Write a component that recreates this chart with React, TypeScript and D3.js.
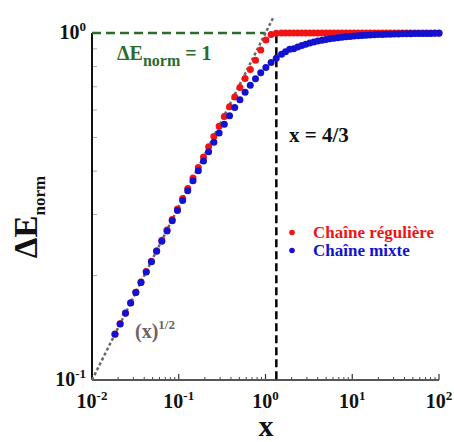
import React from "react";
import * as d3 from "d3";

const xValues = [
  0.0184, 0.0211, 0.0243, 0.0279, 0.032, 0.0367, 0.0422, 0.0484, 0.0556, 0.0638,
  0.0733, 0.0841, 0.0966, 0.111, 0.127, 0.146, 0.168, 0.193, 0.221, 0.254,
  0.292, 0.335, 0.385, 0.442, 0.507, 0.582, 0.668, 0.767, 0.881, 1.01,
  1.16, 1.33, 1.53, 1.7, 1.9, 2.11, 2.35, 2.62, 2.91, 3.24,
  3.61, 4.01, 4.47, 4.97, 5.53, 6.16, 6.85, 7.63, 8.49, 9.45,
  10.5, 11.7, 13.0, 14.5, 16.1, 18.0, 20.0, 22.3, 24.8, 27.6,
  30.7, 34.2, 38.0, 42.3, 47.1, 52.4, 58.3, 64.9, 72.3, 80.4,
  89.5, 100,
];

const regularValues = [
  0.1356, 0.1453, 0.1559, 0.167, 0.1789, 0.1916, 0.2054, 0.22, 0.2358, 0.2526,
  0.2707, 0.29, 0.3108, 0.3332, 0.3564, 0.3821, 0.4099, 0.4393, 0.4701, 0.503,
  0.539, 0.575, 0.613, 0.654, 0.696, 0.739, 0.785, 0.835, 0.893, 0.955,
  0.99, 0.999, 1, 1, 1, 1, 1, 1, 1, 1,
  1, 1, 1, 1, 1, 1, 1, 1, 1, 1,
  1, 1, 1, 1, 1, 1, 1, 1, 1, 1,
  1, 1, 1, 1, 1, 1, 1, 1, 1, 1,
  1, 1,
];

const mixedValues = [
  0.1355, 0.1451, 0.1557, 0.1668, 0.1786, 0.1911, 0.2048, 0.2192, 0.2348, 0.2513,
  0.269, 0.2877, 0.3078, 0.3292, 0.3512, 0.3753, 0.4009, 0.4275, 0.4549, 0.4842,
  0.5146, 0.5456, 0.5777, 0.6101, 0.6425, 0.6749, 0.7068, 0.738, 0.7678, 0.7958,
  0.822, 0.8459, 0.8681, 0.8833, 0.8978, 0.9005, 0.9106, 0.9198, 0.9278, 0.9352,
  0.9418, 0.9476, 0.953, 0.9577, 0.962, 0.9659, 0.9693, 0.9725, 0.9753, 0.9778,
  0.98, 0.9821, 0.9838, 0.9855, 0.987, 0.9883, 0.9895, 0.9906, 0.9915, 0.9924,
  0.9932, 0.9939, 0.9945, 0.995, 0.9955, 0.996, 0.9964, 0.9968, 0.9971, 0.9974,
  0.9977, 0.9979,
];

const xTicks = [0.01, 0.1, 1, 10, 100];
const xTickExponents = ["-2", "-1", "0", "1", "2"];
const yTicks = [0.1, 1];
const yTickExponents = ["-1", "0"];
const seriesNames = ["Chaîne régulière", "Chaîne mixte"];
const criticalX = 4 / 3;
const sqrtLineRange = [0.01, 1.25];
const plateauRange = [0.01, 1.0];

const W = 454;
const H = 442;
const FONT = "'Liberation Serif', 'Times New Roman', serif";
const RED = "#f01414";
const BLUE = "#1212d0";
const GREEN = "#2e6b2e";
const GRAY = "#6e6262";

export default function App() {
  const x = d3.scaleLog().domain([0.01, 100]).range([92, 439]);
  const y = d3.scaleLog().domain([0.1, 1]).range([380, 33]);

  const minorX: number[] = [];
  for (let e = -2; e < 2; e++) {
    for (let m = 2; m <= 9; m++) minorX.push(m * Math.pow(10, e));
  }
  const minorY: number[] = [];
  for (let m = 2; m <= 9; m++) minorY.push(m / 10);

  const sqrtLine = d3
    .line<number>()
    .x((d) => x(d))
    .y((d) => y(Math.sqrt(d)));

  return (
    <svg
      width={W}
      height={H}
      style={{ position: "absolute", left: 0, top: 0, background: "#fff" }}
      fontFamily={FONT}
      fontWeight="bold"
    >
      {minorY.map((v) => (
        <line key={"my" + v} x1={x(0.01)} x2={x(0.01) + 5} y1={y(v)} y2={y(v)} stroke="#aaa" strokeWidth={1} />
      ))}
      {minorX.map((v, i) => (
        <line key={"mx" + i} x1={x(v)} x2={x(v)} y1={y(0.1)} y2={y(0.1) - 3} stroke="#444" strokeWidth={1} />
      ))}
      {xTicks.map((v) => (
        <line key={"Mx" + v} x1={x(v)} x2={x(v)} y1={y(0.1)} y2={y(0.1) - 6} stroke="#333" strokeWidth={1.2} />
      ))}
      <line x1={x(0.01)} x2={x(100)} y1={y(0.1)} y2={y(0.1)} stroke="#555" strokeWidth={2} />
      <line x1={x(0.01)} x2={x(0.01)} y1={y(0.1)} y2={y(1)} stroke="#111" strokeWidth={2} />

      <line
        x1={x(plateauRange[0])}
        x2={x(plateauRange[1])}
        y1={y(1)}
        y2={y(1)}
        stroke={GREEN}
        strokeWidth={2.5}
        strokeDasharray="9,5"
      />
      <line
        x1={x(criticalX)}
        x2={x(criticalX)}
        y1={y(0.985)}
        y2={y(0.1)}
        stroke="#000"
        strokeWidth={2.5}
        strokeDasharray="8,4"
      />
      <path
        d={sqrtLine(d3.range(0, 41).map((i) => sqrtLineRange[0] * Math.pow(sqrtLineRange[1] / sqrtLineRange[0], i / 40))) || ""}
        fill="none"
        stroke="#6e6464"
        strokeWidth={2.5}
        strokeDasharray="3,2.5"
      />

      {xValues.map((v, i) => (
        <circle key={"r" + i} cx={x(v)} cy={y(regularValues[i])} r={3.5} fill={RED} />
      ))}
      {xValues.map((v, i) => (
        <circle key={"b" + i} cx={x(v)} cy={y(mixedValues[i])} r={3.5} fill={BLUE} />
      ))}

      {xTicks.map((v, i) => (
        <text key={"xl" + v} x={x(v)} y={408} textAnchor="middle" fontSize={20} fill="#111">
          10
          <tspan fontSize={13} dy={-8}>
            {xTickExponents[i]}
          </tspan>
        </text>
      ))}
      {yTicks.map((v, i) => (
        <text key={"yl" + v} x={86} y={y(v) + 6} textAnchor="end" fontSize={20} fill="#111">
          10
          <tspan fontSize={13} dy={-8}>
            {yTickExponents[i]}
          </tspan>
        </text>
      ))}

      <text x={266} y={436} textAnchor="middle" fontSize={30} fill="#111">
        x
      </text>
      <text transform="translate(37,217) rotate(-90)" textAnchor="middle" fontSize={33} fill="#111">
        ΔE
        <tspan fontSize={17} dy={8}>
          norm
        </tspan>
      </text>

      <text x={117} y={60} fontSize={20} fill={GREEN}>
        ΔE
        <tspan fontSize={16} dy={6}>
          norm
        </tspan>
        <tspan dy={-6}> = 1</tspan>
      </text>
      <text x={289} y={142} fontSize={21} fill="#111">
        x = 4/3
      </text>
      <text x={135} y={338} fontSize={20} fill={GRAY}>
        (x)
        <tspan fontSize={13} dy={-9}>
          1/2
        </tspan>
      </text>

      <circle cx={292} cy={232.5} r={2.8} fill={RED} />
      <text x={313} y={237.5} fontSize={17} fill={RED}>
        {seriesNames[0]}
      </text>
      <circle cx={292} cy={250.5} r={2.8} fill={BLUE} />
      <text x={313} y={255.5} fontSize={17} fill={BLUE}>
        {seriesNames[1]}
      </text>
    </svg>
  );
}
